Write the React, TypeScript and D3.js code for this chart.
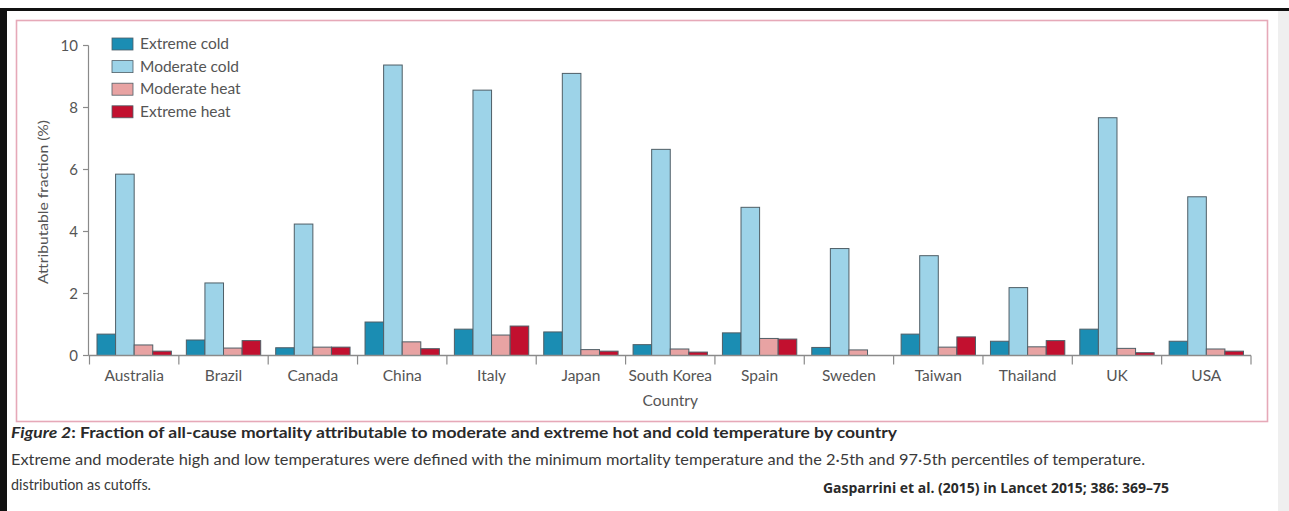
import React from "react";
import * as d3 from "d3";

const countries = ["Australia", "Brazil", "Canada", "China", "Italy", "Japan", "South Korea", "Spain", "Sweden", "Taiwan", "Thailand", "UK", "USA"];
const seriesNames = ["Extreme cold", "Moderate cold", "Moderate heat", "Extreme heat"];
const seriesColors = ["#1b8db3", "#9dd3e8", "#e8a3a3", "#c2102f"];
const extremeCold = [0.69, 0.50, 0.25, 1.08, 0.85, 0.76, 0.35, 0.73, 0.26, 0.69, 0.46, 0.85, 0.46];
const moderateCold = [5.85, 2.34, 4.24, 9.37, 8.56, 9.10, 6.65, 4.78, 3.45, 3.22, 2.19, 7.67, 5.12];
const moderateHeat = [0.34, 0.24, 0.27, 0.44, 0.66, 0.19, 0.21, 0.55, 0.18, 0.27, 0.28, 0.23, 0.21];
const extremeHeat = [0.14, 0.48, 0.27, 0.22, 0.95, 0.14, 0.11, 0.53, 0.0, 0.60, 0.48, 0.09, 0.14];
const yTicks = [0, 2, 4, 6, 8, 10];

const seriesValues = [extremeCold, moderateCold, moderateHeat, extremeHeat];

const W = 1289;
const H = 511;
const FONT = "Lato, 'Open Sans', sans-serif";

export default function App() {
  const x = d3.scaleBand<string>().domain(countries).range([89.5, 1251]).paddingInner(0).paddingOuter(0);
  const inner = d3.scaleBand<string>().domain(seriesNames).range([7.5, x.bandwidth() - 7.5]).padding(0);
  const y = d3.scaleLinear().domain([0, 10]).range([355.5, 45.5]);
  const axisColor = "#8a8a8a";
  const boundaries = countries.map((c) => x(c) as number).concat([(x(countries[countries.length - 1]) as number) + x.bandwidth()]);

  return (
    <div style={{ position: "absolute", left: 0, top: 0, width: W, height: H, background: "#fff" }}>
      <svg width={W} height={H} style={{ display: "block" }}>
        <rect x={0} y={0} width={W} height={H} fill="#ffffff" />
        {/* scan edges */}
        <rect x={1278} y={11} width={11} height={H - 11} fill="#efefef" />
        <rect x={0} y={8} width={W} height={3} fill="#111" />
        <rect x={0} y={8} width={7} height={H - 8} fill="#111" />
        {/* pink frame */}
        <rect x={16.5} y={20.5} width={1251} height={401} fill="none" stroke="#e6a9b8" strokeWidth={1.6} />

        {/* bars */}
        {countries.map((c, i) => (
          <g key={c} transform={`translate(${x(c)},0)`}>
            {seriesNames.map((s, j) => {
              const v = seriesValues[j][i];
              if (v <= 0) return null;
              return (
                <rect
                  key={s}
                  x={inner(s)}
                  y={y(v)}
                  width={inner.bandwidth()}
                  height={y(0) - y(v)}
                  fill={seriesColors[j]}
                  stroke="#4f5e66"
                  strokeWidth={1}
                />
              );
            })}
          </g>
        ))}

        {/* y axis */}
        <line x1={88.5} x2={88.5} y1={y(10)} y2={y(0)} stroke={axisColor} strokeWidth={1.2} />
        {yTicks.map((t) => (
          <g key={t}>
            <line x1={83} x2={88.5} y1={y(t)} y2={y(t)} stroke={axisColor} strokeWidth={1.2} />
            <text x={78} y={y(t) + 5} textAnchor="end" fontFamily={FONT} fontSize={15} fill="#555">
              {t}
            </text>
          </g>
        ))}
        <text
          transform={`translate(48,${202}) rotate(-90)`}
          textAnchor="middle"
          fontFamily={FONT}
          fontSize={14}
          fill="#555"
          textLength={164}
          lengthAdjust="spacingAndGlyphs"
        >
          Attributable fraction (%)
        </text>

        {/* x axis */}
        <line x1={88.5} x2={1251} y1={y(0)} y2={y(0)} stroke={axisColor} strokeWidth={1.4} />
        {boundaries.map((b, i) => (
          <line key={i} x1={b} x2={b} y1={y(0)} y2={y(0) + 9} stroke={axisColor} strokeWidth={1.2} />
        ))}
        {countries.map((c) => (
          <text key={c} x={(x(c) as number) + x.bandwidth() / 2} y={381} textAnchor="middle" fontFamily={FONT} fontSize={15.5} fill="#555">
            {c}
          </text>
        ))}
        <text x={x(countries[6])! + x.bandwidth() / 2} y={406} textAnchor="middle" fontFamily={FONT} fontSize={15.5} fill="#555">
          Country
        </text>

        {/* legend */}
        {seriesNames.map((s, j) => (
          <g key={s} transform={`translate(112,${38 + j * 22.6})`}>
            <rect x={0} y={0} width={21} height={12} fill={seriesColors[j]} stroke="#4f5e66" strokeWidth={0.8} />
            <text x={28} y={11} fontFamily={FONT} fontSize={15.5} fill="#555">
              {s}
            </text>
          </g>
        ))}

        {/* caption */}
        <text x={11} y={438} fontFamily={FONT} fontSize={15.5} fontWeight={700} fill="#2a2a2a" textLength={886} lengthAdjust="spacingAndGlyphs">
          <tspan fontStyle="italic">Figure 2</tspan>: Fraction of all-cause mortality attributable to moderate and extreme hot and cold temperature by country
        </text>
        <text x={11} y={465} fontFamily={FONT} fontSize={15} fill="#3a3a3a" textLength={1134} lengthAdjust="spacingAndGlyphs">
          Extreme and moderate high and low temperatures were defined with the minimum mortality temperature and the 2·5th and 97·5th percentiles of temperature.
        </text>
        <text x={11} y={490} fontFamily={FONT} fontSize={15} fill="#3a3a3a" textLength={140} lengthAdjust="spacingAndGlyphs">
          distribution as cutoffs.
        </text>
        <text x={823} y={493} fontFamily="'Open Sans', Lato, sans-serif" fontSize={14} fontWeight={700} fill="#2a2a2a" textLength={346} lengthAdjust="spacingAndGlyphs">
          Gasparrini et al. (2015) in Lancet 2015; 386: 369–75
        </text>
      </svg>
    </div>
  );
}
